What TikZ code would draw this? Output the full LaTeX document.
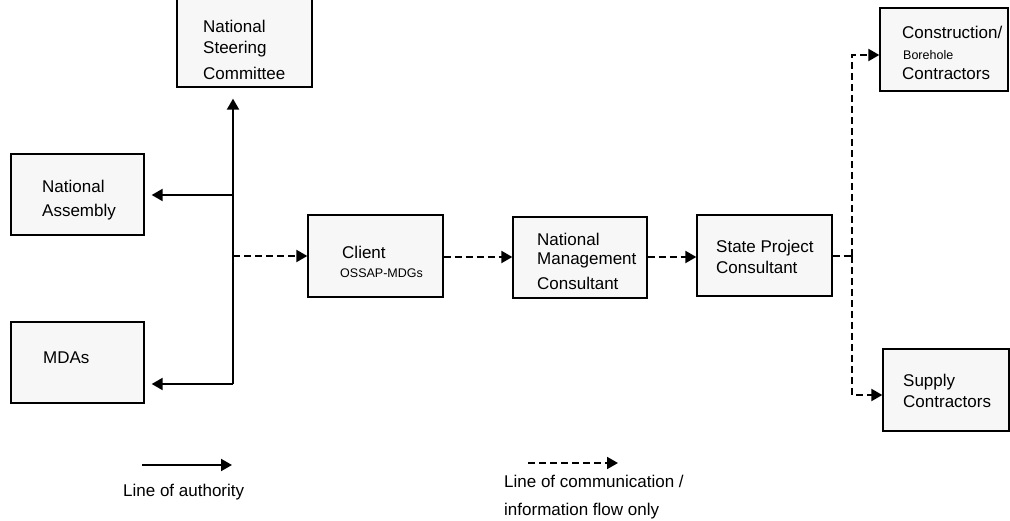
\documentclass[tikz,border=0pt]{standalone}
\usepackage{fontspec}
\setmainfont{Liberation Sans}
\usetikzlibrary{arrows.meta}
\tikzset{
  box/.style={draw,line width=1.3pt,fill=black!3,inner sep=0pt},
  txt/.style={anchor=west,align=left,inner sep=0pt,font=\fontsize{17}{20}\selectfont},
  small/.style={anchor=west,inner sep=0pt,font=\fontsize{12.5}{15}\selectfont},
  auth/.style={line width=2pt,-{Triangle[length=11pt,width=12pt]}},
  info/.style={line width=2pt,dash pattern=on 7pt off 4pt,-{Triangle[length=11pt,width=12pt]}},
}
\begin{document}
\begin{tikzpicture}[x=1pt,y=-1pt]
    \useasboundingbox (0,0) rectangle (1010,521);
    % boxes
    \node[box,minimum width=135pt,minimum height=107pt] (nsc) at (244.5,33.5) {};
    \node[box,minimum width=133pt,minimum height=81pt] (na) at (77.5,194.5) {};
    \node[box,minimum width=133pt,minimum height=81pt] (mdas) at (77.5,362.5) {};
    \node[box,minimum width=135pt,minimum height=82pt] (client) at (375.5,256) {};
    \node[box,minimum width=134pt,minimum height=81pt] (nmc) at (580,257.5) {};
    \node[box,minimum width=135pt,minimum height=81pt] (spc) at (764.5,255.5) {};
    \node[box,minimum width=128pt,minimum height=83pt] (constr) at (944,49.5) {};
    \node[box,minimum width=126pt,minimum height=82pt] (supply) at (946,390) {};
    % texts
    \node[txt] (nsc-t) at (203,49.5) {National\\[1pt]Steering\\[6pt]Committee};
    \node[txt] (na-t) at (42,200) {National\\[4pt]Assembly};
    \node[txt] (mdas-t) at (43,358) {MDAs};
    \node[txt] (client-t) at (342,252) {Client};
    \node[small] (client-s) at (340,273) {OSSAP-MDGs};
    \node[txt] (nmc-t) at (537,261) {National\\[-1pt]Management\\[5pt]Consultant};
    \node[txt] (spc-t) at (716,256.5) {State Project\\[1pt]Consultant};
    \node[txt] (constr-t) at (902,32) {Construction/};
    \node[small] (constr-s) at (903,55) {Borehole};
    \node[txt] (constr-u) at (902,74) {Contractors};
    \node[txt] (supply-t) at (903,390.5) {Supply\\[1pt]Contractors};
    % junctions
    \coordinate (trunk) at (233,384);
    \coordinate (hub) at (233,256);
    \coordinate (split) at (852,256);
    % line of authority
    \draw[auth,shorten >=11pt] (trunk) -- (nsc.south -| trunk);
    \draw[auth,shorten >=7pt] (trunk |- 195,195) -- (na.east |- 0,195);
    \draw[auth,shorten >=7pt] (trunk) -- (mdas.east |- trunk);
    % line of communication
    \draw[info] (hub) -- (client.west |- hub);
    \draw[info] (client.east |- 0,257) -- (nmc.west |- 0,257);
    \draw[info] (nmc.east |- 0,257) -- (spc.west |- 0,257);
    \draw[line width=2pt,dash pattern=on 7pt off 4pt] (spc.east |- split) -- (split);
    \draw[info] (split) -- (852,55) -- (constr.west |- 0,55);
    \draw[info] (split) -- (852,395) -- (supply.west |- 0,395);
    % legend
    \coordinate (la) at (142,465);
    \coordinate (lb) at (232,465);
    \draw[auth] (la) -- (lb);
    \node[txt] (la-t) at (123,492) {Line of authority};
    \coordinate (lc) at (528,463);
    \coordinate (ld) at (618,463);
    \draw[info] (lc) -- (ld);
    \node[txt] (lc-t) at (504,497) {Line of communication /\\[8pt]information flow only};
\end{tikzpicture}
\end{document}
